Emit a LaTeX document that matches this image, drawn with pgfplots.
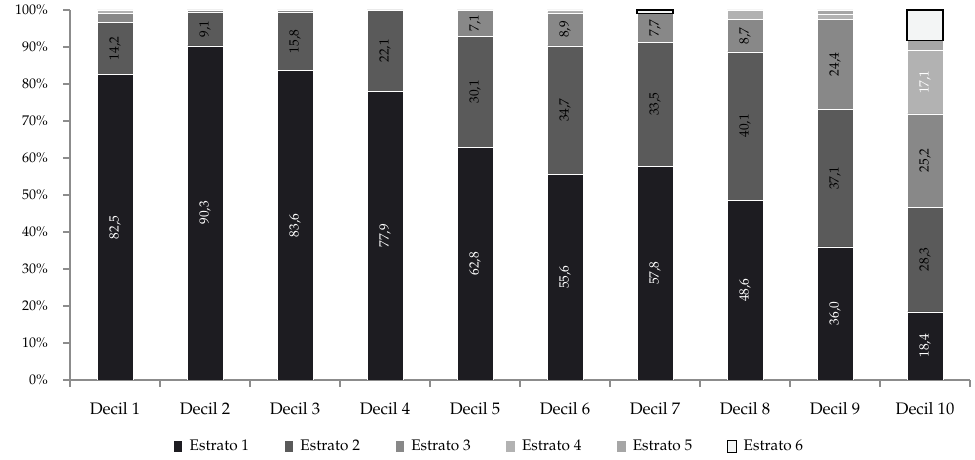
\documentclass[border=0pt]{standalone}
\usepackage[T1]{fontenc}
\usepackage{mathpazo}
\usepackage{pgfplots}
\pgfplotsset{compat=1.18}
\usepackage{pgfplotstable}
\definecolor{c1}{HTML}{1D1C21}
\definecolor{c2}{HTML}{5A5A5A}
\definecolor{c3}{HTML}{888888}
\definecolor{c4}{HTML}{B2B2B2}
\definecolor{c5}{HTML}{A6A6A6}
\definecolor{c6}{HTML}{F3F5F5}
\definecolor{axgray}{HTML}{8C8C8C}
\pgfplotstableread{
x e1 e2 e3 e4 e5
0 82.5 14.2 2.3 1.0 0
1 90.3 9.1 0.6 0 0
2 83.6 15.8 0.5 0.1 0
3 77.9 22.1 0 0 0
4 62.8 30.1 7.1 0 0
5 55.6 34.7 8.9 0.8 0
6 57.8 33.5 7.7 0 0
7 48.6 40.1 8.7 2.6 0
8 36.0 37.1 24.4 1.4 1.1
9 18.4 28.3 25.2 17.1 2.7
}\datatable
\begin{document}
\begin{tikzpicture}
\useasboundingbox (-52.5pt,-60pt) rectangle (678.75pt,285pt);
\pgfplotsset{
  base/.style={width=675pt,height=277.5pt,scale only axis,
    xmin=-0.5,xmax=9.5,ymin=0,ymax=100,ybar stacked,bar width=0.4},
  lbl/.style 2 args={visualization depends on={\thisrow{#1}\as\rawy},
    nodes near coords={\pgfmathparse{\rawy<5}\ifdim\pgfmathresult pt>0.5pt\else\pgfmathprintnumber[fixed,fixed zerofill,precision=1,use comma,assume math mode=true]{\rawy}\fi},
    every node near coord/.append style={rotate=90,anchor=center,
      font=\fontsize{10}{12}\selectfont,text=#2}},
}
\begin{axis}[base,
  axis x line*=bottom, axis y line*=left,
  axis line style={draw=axgray,line width=0.8pt},
  xtick={0,...,9},
  xticklabels={Decil 1,Decil 2,Decil 3,Decil 4,Decil 5,Decil 6,Decil 7,Decil 8,Decil 9,Decil 10},
  major x tick style={draw=none},
  minor xtick={-0.5,0.5,...,9.5},
  minor tick length=5pt, major tick length=5pt,
  tick align=outside,
  tick style={draw=axgray,line width=0.8pt},
  ytick={0,10,...,100},
  yticklabel={\pgfmathprintnumber[assume math mode=true]{\tick}\%},
  yticklabel style={font=\fontsize{10.5}{12}\selectfont,xshift=-8pt},
  xticklabel style={font=\fontsize{12.5}{14}\selectfont,yshift=-8pt},
  legend columns=6,
  legend style={draw=none,at={(0.466,-0.179)},anchor=center,
    font=\fontsize{11.5}{13}\selectfont,
    /tikz/every odd column/.append style={column sep=3pt},
    /tikz/every even column/.append style={column sep=24pt}},
  legend image code/.code={\draw[#1,line width=0.5pt] (0pt,-4.75pt) rectangle (7pt,4.75pt);},
]
\addplot[fill=c1,draw=white,line width=0.4pt,lbl={e1}{white}] table[x=x,y=e1]{\datatable};
\addlegendentry{Estrato 1}
\addplot[fill=c2,draw=white,line width=0.4pt,lbl={e2}{black}] table[x=x,y=e2]{\datatable};
\addlegendentry{Estrato 2}
\addplot[fill=c3,draw=white,line width=0.4pt,lbl={e3}{black}] table[x=x,y=e3]{\datatable};
\addlegendentry{Estrato 3}
\addplot[fill=c4,draw=white,line width=0.4pt,lbl={e4}{white}] table[x=x,y=e4]{\datatable};
\addlegendentry{Estrato 4}
\addplot[fill=c5,draw=white,line width=0.4pt] table[x=x,y=e5]{\datatable};
\addlegendentry{Estrato 5}
\addlegendimage{fill=c6,draw=black}
\addlegendentry{Estrato 6}
\end{axis}
\begin{axis}[base,hide axis]
\addplot[draw=none,fill=none] coordinates {(6,99.0) (9,91.7)};
\addplot[fill=c6,draw=black,line width=1pt] coordinates {(6,1.0) (9,8.3)};
\end{axis}
\end{tikzpicture}
\end{document}
